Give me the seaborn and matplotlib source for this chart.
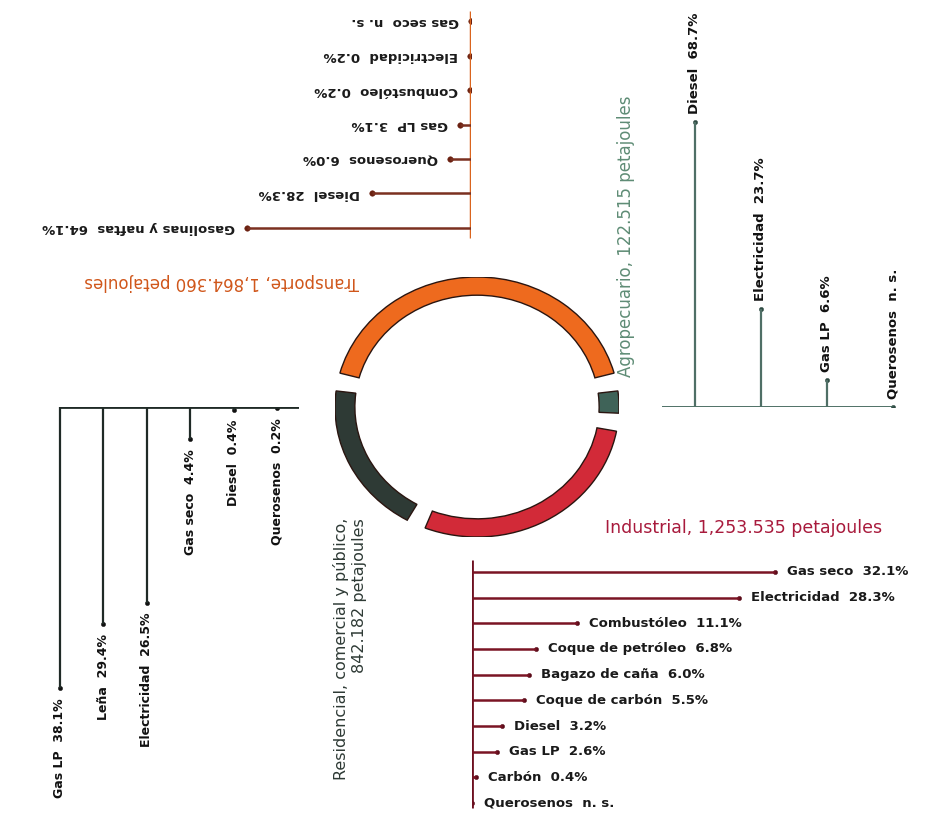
import numpy as np
import pandas as pd
import matplotlib
matplotlib.use('Agg')
import matplotlib.pyplot as plt
from matplotlib.patches import Wedge
import seaborn as sns

# sectores (petajoules)
sectors = ['Transporte', 'Agropecuario', 'Industrial', 'Residencial, comercial y público']
sector_pj = [1864.360, 122.515, 1253.535, 842.182]
sector_col = ['#EE6A1E', '#3F6358', '#D22A38', '#2E3A35']

# consumo por combustible (%); None = n. s.
trans_fuels = ['Gas seco', 'Electricidad', 'Combustóleo', 'Gas LP', 'Querosenos', 'Diesel', 'Gasolinas y naftas']
trans_pct = [None, 0.2, 0.2, 3.1, 6.0, 28.3, 64.1]

agro_fuels = ['Diesel', 'Electricidad', 'Gas LP', 'Querosenos']
agro_pct = [68.7, 23.7, 6.6, None]

ind_fuels = ['Gas seco', 'Electricidad', 'Combustóleo', 'Coque de petróleo', 'Bagazo de caña',
             'Coque de carbón', 'Diesel', 'Gas LP', 'Carbón', 'Querosenos']
ind_pct = [32.1, 28.3, 11.1, 6.8, 6.0, 5.5, 3.2, 2.6, 0.4, None]

res_fuels = ['Gas LP', 'Leña', 'Electricidad', 'Gas seco', 'Diesel', 'Querosenos']
res_pct = [38.1, 29.4, 26.5, 4.4, 0.4, 0.2]


def make_df(names, pcts):
    df = pd.DataFrame({'fuel': names, 'pct': pcts})
    df['pos'] = np.arange(len(df))
    df['val'] = df['pct'].fillna(0)
    df['label'] = [f'{n}  {p:.1f}%' if pd.notna(p) else f'{n}  n. s.' for n, p in zip(df['fuel'], df['pct'])]
    return df


sns.set_theme(style='white')
plt.rcParams['font.family'] = ['DejaVu Sans']

W, H = 927, 814
fig = plt.figure(figsize=(W / 100, H / 100), dpi=100)


def px_axes(x0, y0, x1, y1):
    ax = fig.add_axes([x0 / W, 1 - y1 / H, (x1 - x0) / W, (y1 - y0) / H])
    ax.axis('off')
    return ax


# ---- anillo ----
ax = px_axes(335, 277, 619, 537)
ax.set_xlim(-1, 1)
ax.set_ylim(-1, 1)
gap = 8
span = 360 - 4 * gap
shares = np.array(sector_pj) / sum(sector_pj)
start = 90 + shares[0] * span / 2
for sh, col in zip(shares, sector_col):
    end = start - sh * span
    ax.add_patch(Wedge((0, 0), 1, end, start, width=0.14, facecolor=col, edgecolor='#2a1510', lw=1))
    start = end - gap

# ---- transporte (invertido) ----
tr = make_df(trans_fuels, trans_pct)
ax = px_axes(240, 4, 471, 245)
ax.set_xlim(66, 0)
ax.set_ylim(6.5, -0.5)
ax.vlines(0, -0.3, 6.3, color='#D9641E', lw=2.5)
ax.hlines(tr['pos'], 0, tr['val'], color='#7B3020', lw=1.8)
sns.scatterplot(data=tr, x='val', y='pos', ax=ax, color='#6a2010', s=16, edgecolor=None, legend=False)
for _, r in tr.iterrows():
    ax.annotate(r['label'], (r['val'], r['pos']), xytext=(-12, 0), textcoords='offset pixels',
                rotation=180, ha='right', va='center', fontsize=9.5, fontweight='bold',
                color='#1a1a1a', annotation_clip=False)
fig.text(222 / W, 1 - 282 / H, f'Transporte, {sector_pj[0]:,.3f} petajoules', rotation=180,
         ha='center', va='center', fontsize=12, color='#D0561A')

# ---- agropecuario ----
ag = make_df(agro_fuels, agro_pct)
ax = px_axes(662, 100, 926, 407)
ax.set_xlim(-0.5, 3.5)
ax.set_ylim(0, 307 / 4.15)
ax.hlines(0, -0.53, 3.0, color='#3F6358', lw=2)
ax.vlines(ag['pos'], 0, ag['val'], color='#4F6F66', lw=1.6)
sns.scatterplot(data=ag, x='pos', y='val', ax=ax, color='#2E4A42', s=10, edgecolor=None, legend=False)
for _, r in ag.iterrows():
    ax.annotate(r['label'], (r['pos'], r['val']), xytext=(0, 8), textcoords='offset pixels',
                rotation=90, ha='center', va='bottom', fontsize=9.5, fontweight='bold',
                color='#111111', annotation_clip=False)
fig.text(626 / W, 1 - 236 / H, f'Agropecuario, {sector_pj[1]:.3f} petajoules', rotation=90,
         ha='center', va='center', fontsize=12, color='#5E8C75')

# ---- industrial ----
ind = make_df(ind_fuels, ind_pct)
ax = px_axes(472, 559, 782, 816)
ax.set_xlim(0, 310 / 9.44)
ax.set_ylim(9.5, -0.5)
ax.vlines(0, -0.45, 9.2, color='#6E1020', lw=2)
ax.hlines(ind['pos'], 0, ind['val'], color='#7A1424', lw=1.8)
sns.scatterplot(data=ind, x='val', y='pos', ax=ax, color='#5a0a18', s=10, edgecolor=None, legend=False)
for _, r in ind.iterrows():
    ax.annotate(r['label'], (r['val'], r['pos']), xytext=(12, 0), textcoords='offset pixels',
                ha='left', va='center', fontsize=9.5, fontweight='bold',
                color='#1a1a1a', annotation_clip=False)
fig.text(744 / W, 1 - 528 / H, f'Industrial, {sector_pj[2]:,.3f} petajoules',
         ha='center', va='center', fontsize=12.5, color='#A81A3C')

# ---- residencial, comercial y publico ----
rs = make_df(res_fuels, res_pct)
ax = px_axes(38, 407, 299, 700)
ax.set_xlim(-0.5, 5.5)
ax.set_ylim(293 / 7.38, 0)
ax.hlines(0, 0, 5.55, color='#1f2a26', lw=2)
ax.vlines(rs['pos'], 0, rs['val'], color='#1f2a26', lw=1.6)
sns.scatterplot(data=rs, x='pos', y='val', ax=ax, color='#111111', s=10, edgecolor=None, legend=False)
for _, r in rs.iterrows():
    ax.annotate(r['label'], (r['pos'], r['val']), xytext=(0, -10), textcoords='offset pixels',
                rotation=90, ha='center', va='top', fontsize=9, fontweight='bold',
                color='#111111', annotation_clip=False)
fig.text(350 / W, 1 - 518 / H, f'{sectors[3]},\n{sector_pj[3]:.3f} petajoules',
         rotation=90, ha='center', va='top', multialignment='right', fontsize=11.5,
         color='#2E3A35')

fig.savefig('out.png', dpi=100)
